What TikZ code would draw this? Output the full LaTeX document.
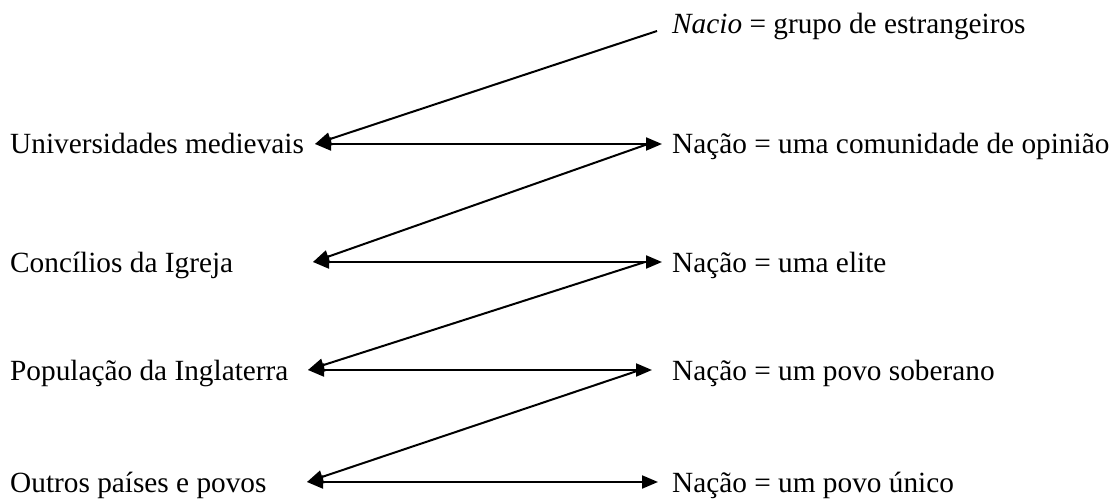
\documentclass[tikz,border=0pt]{standalone}
\usepackage{fontspec}
\setmainfont{Liberation Serif}
\usetikzlibrary{arrows.meta}
\begin{document}
\begin{tikzpicture}[x=1pt,y=-1pt,
  lbl/.style={inner sep=0pt,anchor=base west,font=\fontsize{29.3}{35}\selectfont},
  tip/.style={Triangle[length=16pt,width=13pt]},
  conn/.style={line width=2pt,-{Triangle[length=16pt,width=13pt]}},
  both/.style={line width=2pt,{Triangle[length=16pt,width=13pt]}-{Triangle[length=16pt,width=13pt]}}]
\useasboundingbox (0,0) rectangle (1112,500);
% labels
\node[lbl] (n0) at (672,34) {\textit{Nacio} = grupo de estrangeiros};
\node[lbl] (a1) at (10,154) {Universidades medievais};
\node[lbl] (b1) at (672,154) {Nação = uma comunidade de opinião};
\node[lbl] (a2) at (10,272) {Concílios da Igreja};
\node[lbl] (b2) at (672,272) {Nação = uma elite};
\node[lbl] (a3) at (10,380) {População da Inglaterra};
\node[lbl] (b3) at (672,380) {Nação = um povo soberano};
\node[lbl] (a4) at (10,492) {Outros países e povos};
\node[lbl] (b4) at (672,492) {Nação = um povo único};
% connector end points
\coordinate (s0) at (657,31);
\coordinate (L1) at (315,144);
\coordinate (R1) at (662,144);
\coordinate (S1) at (648,144);
\coordinate (L2) at (313,262);
\coordinate (R2) at (662,262);
\coordinate (S2) at (645,262);
\coordinate (L3) at (308,370);
\coordinate (R3) at (652,370);
\coordinate (S3) at (640,370);
\coordinate (L4) at (307,482);
\coordinate (R4) at (658,482);
% connectors
\draw[conn] (s0) -- (L1);
\draw[both] (L1) -- (R1);
\draw[conn] (S1) -- (L2);
\draw[both] (L2) -- (R2);
\draw[conn] (S2) -- (L3);
\draw[both] (L3) -- (R3);
\draw[conn] (S3) -- (L4);
\draw[both] (L4) -- (R4);
\end{tikzpicture}
\end{document}
